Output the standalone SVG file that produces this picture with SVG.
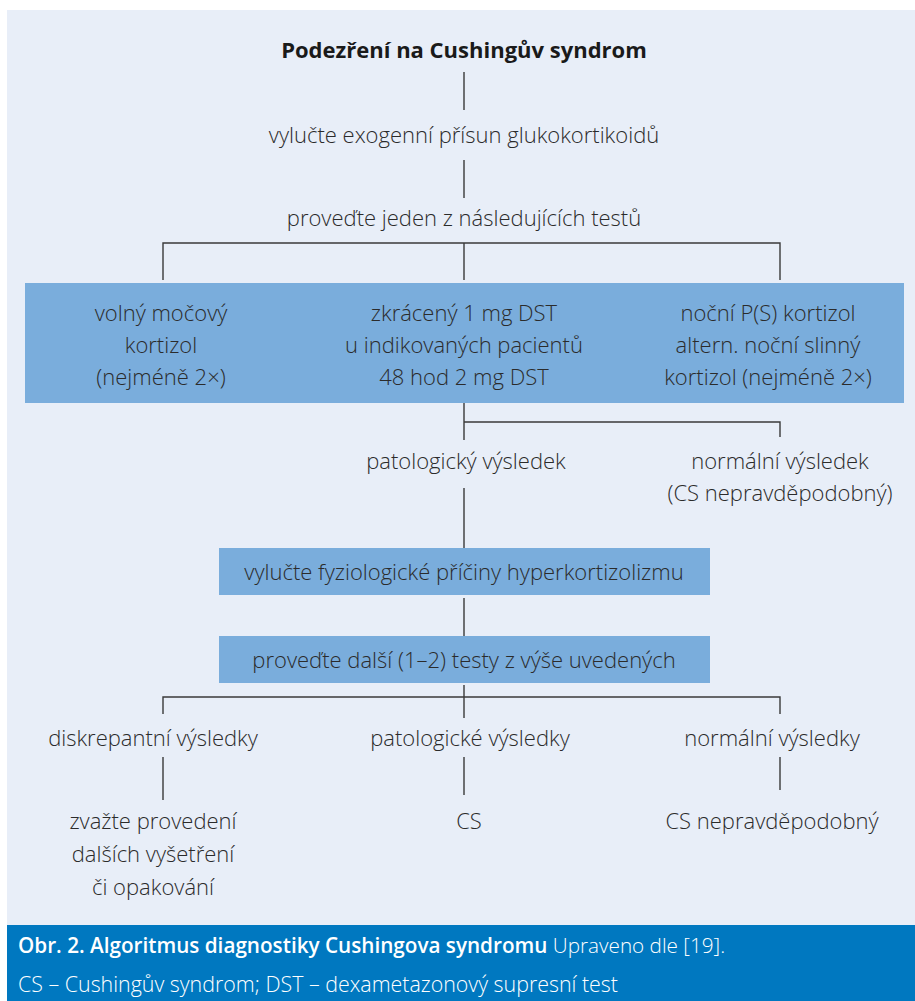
<svg xmlns="http://www.w3.org/2000/svg" width="915" height="1001" viewBox="0 0 915 1001">
<style>
text{font-family:"Open Sans","Liberation Sans",sans-serif;font-size:22px;fill:#2b2b2b;text-anchor:middle;font-weight:300}
.b{font-weight:700;fill:#1a1a1a;font-size:22px}
.box{fill:#7aaddc}
.ln{stroke:#3a3a3a;stroke-width:1.4;fill:none}
.cap{fill:#fff;text-anchor:start;font-size:21.4px}
.cap1{font-size:20.7px}
</style>
<rect x="7" y="10" width="908" height="915" fill="#e8eef8"/>
<rect x="7" y="925" width="908" height="76" fill="#0078c0"/>
<g id="connectors">
<path class="ln" d="M464 72V110M464 160V198M163 280V243H780V280M464 243V280"/>
<path class="ln" d="M464 403V440M464 422H780V437M464 488V548M464 598V636M464 685V718M163 714V697H780V714"/>
<path class="ln" d="M163 757V800M464 757V795M780 757V790"/>
</g>
<g id="n-title"><text x="464" y="58" class="b">Podezření na Cushingův syndrom</text></g>
<g id="n-exo"><text x="464" y="143">vylučte exogenní přísun glukokortikoidů</text></g>
<g id="n-test"><text x="464" y="226">proveďte jeden z následujících testů</text></g>
<g id="n-tests">
<rect class="box" x="25" y="283" width="879" height="120"/>
<text x="161" y="321">volný močový</text>
<text x="161" y="353">kortizol</text>
<text x="161" y="385">(nejméně 2×)</text>
<text x="464" y="321">zkrácený 1 mg DST</text>
<text x="464" y="353">u indikovaných pacientů</text>
<text x="464" y="385">48 hod 2 mg DST</text>
<text x="768" y="321">noční P(S) kortizol</text>
<text x="768" y="353">altern. noční slinný</text>
<text x="768" y="385">kortizol (nejméně 2×)</text>
</g>
<g id="n-pat1"><text x="466" y="469">patologický výsledek</text></g>
<g id="n-norm1"><text x="780" y="469">normální výsledek</text><text x="780" y="501">(CS nepravděpodobný)</text></g>
<g id="n-fyz"><rect class="box" x="219" y="548" width="491" height="47"/><text x="464" y="580">vylučte fyziologické příčiny hyperkortizolizmu</text></g>
<g id="n-dalsi"><rect class="box" x="219" y="636" width="491" height="47"/><text x="464" y="668">proveďte další (1–2) testy z výše uvedených</text></g>
<g id="n-disk"><text x="153" y="746">diskrepantní výsledky</text></g>
<g id="n-pat2"><text x="470" y="746">patologické výsledky</text></g>
<g id="n-norm2"><text x="772" y="746">normální výsledky</text></g>
<g id="n-zvaz"><text x="153" y="829">zvažte provedení</text><text x="153" y="862">dalších vyšetření</text><text x="153" y="895">či opakování</text></g>
<g id="n-cs"><text x="469" y="829">CS</text></g>
<g id="n-csn"><text x="772" y="829">CS nepravděpodobný</text></g>
<g id="caption">
<text class="cap cap1" x="18" y="953"><tspan font-weight="600">Obr. 2. Algoritmus diagnostiky Cushingova syndromu</tspan> Upraveno dle [19].</text>
<text class="cap" x="18" y="992">CS – Cushingův syndrom; DST – dexametazonový supresní test</text>
</g>
</svg>
